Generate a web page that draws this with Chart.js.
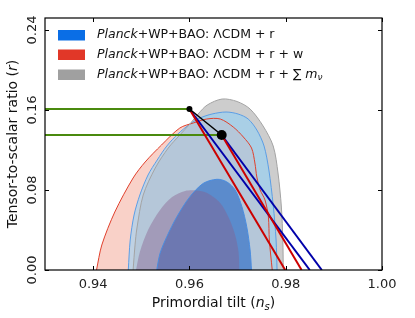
<!DOCTYPE html>
<html>
<head>
<meta charset="utf-8">
<script src="https://cdn.jsdelivr.net/npm/chart.js@4.4.1/dist/chart.umd.min.js"></script>
<style>
  html, body { margin: 0; background: #fff; }
</style>
</head>
<body>
<canvas id="chart" width="415" height="318"></canvas>
<script>
const xTicks = [0.94, 0.96, 0.98, 1.00]
const yTicks = [0.00, 0.08, 0.16, 0.24]
const seriesNames = ['ΛCDM + r', 'ΛCDM + r + w', 'ΛCDM + r + ∑ ']

// contours as [n_s, r], upper edge traced left to right
const grayOuter = [[0.9483,0],[0.9487,0.025],[0.9491,0.042],[0.9504,0.075],[0.9529,0.102],[0.9556,0.122],
  [0.9580,0.135],[0.9601,0.146],[0.9618,0.156],[0.9637,0.165],[0.9668,0.171],[0.9699,0.1685],[0.9726,0.161],
  [0.9753,0.144],[0.9774,0.124],[0.9784,0.097],[0.9791,0.063],[0.9794,0.030],[0.9795,0]]
const grayInner = [[0.9489,0],[0.9497,0.018],[0.9514,0.040],[0.9539,0.060],[0.9564,0.073],[0.9591,0.079],
  [0.9614,0.0795],[0.9637,0.077],[0.9664,0.067],[0.9682,0.052],[0.9695,0.035],[0.9702,0.018],[0.9704,0]]
const blueOuter = [[0.9473,0],[0.9477,0.030],[0.9485,0.055],[0.9497,0.075],[0.9514,0.095],[0.9533,0.110],
  [0.9553,0.124],[0.9576,0.136],[0.9601,0.146],[0.9622,0.152],[0.9647,0.156],[0.9676,0.158],[0.9701,0.156],
  [0.9722,0.151],[0.9740,0.140],[0.9755,0.124],[0.9765,0.100],[0.9774,0.065],[0.9780,0.030],[0.9782,0]]
const blueInner = [[0.9532,0],[0.9539,0.0167],[0.9553,0.0333],[0.9574,0.0533],[0.9601,0.0733],[0.9629,0.0867],
  [0.9657,0.0907],[0.9677,0.0883],[0.9695,0.080],[0.9709,0.0633],[0.9719,0.0433],[0.9726,0.020],[0.9729,0]]
const redOuter = [[0.9407,0],[0.9418,0.025],[0.9445,0.058],[0.9483,0.092],[0.9508,0.108],[0.9542,0.125],
  [0.9580,0.142],[0.9608,0.147],[0.9636,0.151],[0.9664,0.151],[0.9691,0.143],[0.9712,0.133],[0.9729,0.122],
  [0.9736,0.107],[0.9740,0.093],[0.9747,0.080],[0.9757,0.070],[0.9764,0.053],[0.9766,0.030],[0.9772,0]]

// model points and their lines
const pointA = [0.9600, 0.161]
const pointB = [0.9667, 0.135]
const redEnds = [0.9799, 0.9833]
const blueEnds = [0.9850, 0.9875]

const xMin = 0.93, xMax = 1.00, yMax = 0.252
const FONT = '"DejaVu Sans", sans-serif'

const pts = a => a.map(([x, y]) => ({x, y}))

const fillSet = (data, color, order) => ({
  data: pts(data), showLine: true, fill: 'origin', backgroundColor: color,
  borderWidth: 0, pointRadius: 0, tension: 0.3, order
})
const edgeSet = (data, color) => ({
  data: pts(data), showLine: true, fill: false, borderColor: color,
  borderWidth: 1, pointRadius: 0, tension: 0.3, order: 5
})
const lineSet = (data, color, width) => ({
  data: pts(data), showLine: true, fill: false, borderColor: color,
  borderWidth: width, pointRadius: 0, order: 2
})

const datasets = [
  fillSet(grayOuter, '#cdcdcd', 10),
  fillSet(redOuter, 'rgba(244,176,160,0.58)', 9),
  fillSet(blueOuter, 'rgba(133,209,255,0.5)', 8),
  fillSet(blueInner, 'rgba(61,119,199,0.75)', 7),
  fillSet(grayInner, 'rgba(135,95,140,0.42)', 6),
  edgeSet(grayOuter, '#a3a3a3'),
  edgeSet(redOuter, '#e0402c'),
  edgeSet(blueOuter, '#5b9ee6'),
  edgeSet(blueInner, '#4a8de0'),
  lineSet([pointA, [redEnds[0], 0]], '#cc0000', 2),
  lineSet([pointB, [redEnds[1], 0]], '#cc0000', 2),
  lineSet([pointA, [blueEnds[0], 0]], '#0000aa', 2),
  lineSet([pointB, [blueEnds[1], 0]], '#0000aa', 2),
  lineSet([[xMin, pointA[1]], pointA], '#4a8a0e', 2),
  lineSet([[xMin, pointB[1]], pointB], '#4a8a0e', 2),
  {
    data: pts([pointA, pointB]), showLine: true, borderColor: '#000', borderWidth: 1.5,
    backgroundColor: '#000', pointRadius: [3, 5], pointBorderWidth: 0, order: 1
  }
]

function richText(ctx, parts, x, y, size, align) {
  const font = p => (p.it ? 'italic ' : '') + (p.sub ? size * 0.72 : size) + 'px ' + FONT
  let w = 0
  parts.forEach(p => { ctx.font = font(p); p.w = ctx.measureText(p.t).width; w += p.w })
  let cx = align === 'center' ? x - w / 2 : x
  parts.forEach(p => {
    ctx.font = font(p)
    ctx.fillText(p.t, cx, y + (p.sub ? size * 0.28 : 0))
    cx += p.w
  })
}

const frame = {
  id: 'frame',
  afterDraw(chart) {
    const {ctx, chartArea: a, scales: {x, y}} = chart
    ctx.save()
    ctx.strokeStyle = '#000'
    ctx.lineWidth = 1.2
    ctx.strokeRect(a.left, a.top, a.right - a.left, a.bottom - a.top)
    ctx.lineWidth = 1
    ctx.beginPath()
    xTicks.forEach(v => {
      const px = Math.round(x.getPixelForValue(v)) + 0.5
      ctx.moveTo(px, a.bottom); ctx.lineTo(px, a.bottom - 4)
      ctx.moveTo(px, a.top); ctx.lineTo(px, a.top + 4)
    })
    yTicks.forEach(v => {
      const py = Math.round(y.getPixelForValue(v)) + 0.5
      ctx.moveTo(a.left, py); ctx.lineTo(a.left + 4, py)
      ctx.moveTo(a.right, py); ctx.lineTo(a.right - 4, py)
    })
    ctx.stroke()

    // legend
    const boxes = ['#0a6ee6', '#e13728', '#a0a0a0']
    const rows = [35, 54.5, 74.5]
    ctx.textBaseline = 'middle'
    rows.forEach((ry, i) => {
      ctx.fillStyle = boxes[i]
      ctx.fillRect(58, ry - 5, 27, 10.5)
      ctx.fillStyle = '#111'
      const parts = [{t: 'Planck', it: true}, {t: '+WP+BAO: ' + seriesNames[i]}]
      if (i === 2) parts.push({t: 'm', it: true}, {t: 'ν', it: true, sub: true})
      richText(ctx, parts, 97, ry, 12.5, 'left')
    })

    // axis titles
    richText(ctx, [{t: 'Primordial tilt ('}, {t: 'n', it: true}, {t: 's', it: true, sub: true}, {t: ')'}],
      (a.left + a.right) / 2, 303, 14, 'center')
    ctx.translate(13, (a.top + a.bottom) / 2)
    ctx.rotate(-Math.PI / 2)
    richText(ctx, [{t: 'Tensor-to-scalar ratio ('}, {t: 'r', it: true}, {t: ')'}], 0, 0, 14, 'center')
    ctx.restore()
  }
}

new Chart(document.getElementById('chart'), {
  type: 'scatter',
  data: {datasets},
  options: {
    responsive: false,
    animation: false,
    layout: {padding: {left: 0, top: 18, right: 33, bottom: 0}},
    plugins: {legend: {display: false}, tooltip: {enabled: false}},
    scales: {
      x: {
        min: xMin, max: xMax,
        grid: {display: false, drawTicks: false},
        border: {display: false},
        afterBuildTicks: s => { s.ticks = xTicks.map(v => ({value: v})) },
        afterFit: s => { s.height = 48 },
        ticks: {padding: 7, color: '#222', font: {family: FONT, size: 13}, callback: v => v.toFixed(2)}
      },
      y: {
        min: 0, max: yMax,
        grid: {display: false, drawTicks: false},
        border: {display: false},
        afterBuildTicks: s => { s.ticks = yTicks.map(v => ({value: v})) },
        afterFit: s => { s.width = 45 },
        ticks: {padding: -2, minRotation: 90, maxRotation: 90, crossAlign: 'center', color: '#222',
          font: {family: FONT, size: 13}, callback: v => v.toFixed(2)}
      }
    }
  },
  plugins: [frame]
})
</script>
</body>
</html>
